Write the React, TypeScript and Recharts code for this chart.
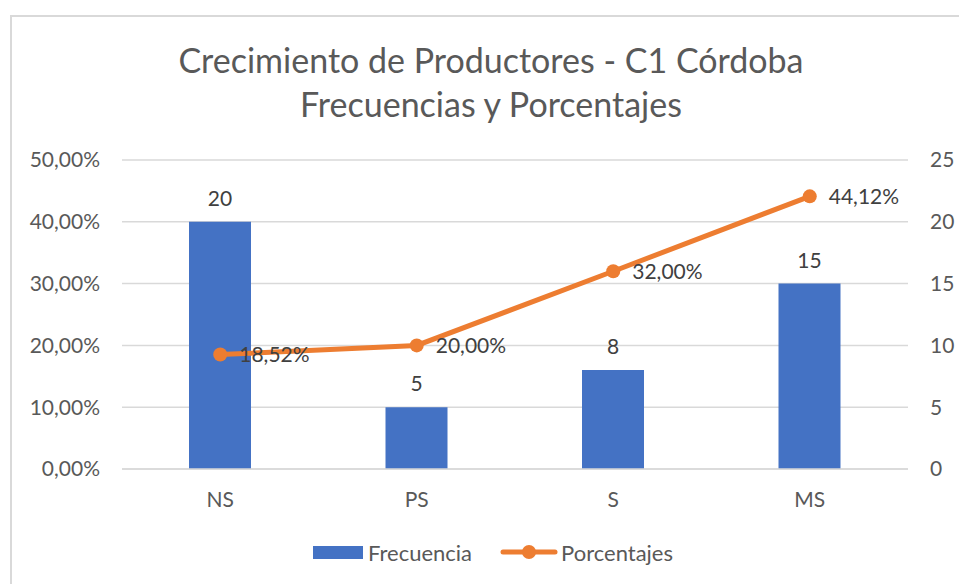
import { Bar, ComposedChart, Line, XAxis, YAxis, CartesianGrid, LabelList } from "recharts";

const categories = ["NS", "PS", "S", "MS"];
const frecuencia = [20, 5, 8, 15];
const porcentajes = [0.1852, 0.2, 0.32, 0.4412];
const leftTicks = [0, 0.1, 0.2, 0.3, 0.4, 0.5];
const rightTicks = [0, 5, 10, 15, 20, 25];

const FONT = "Lato, 'Open Sans', sans-serif";
const BLUE = "#4472C4";
const ORANGE = "#ED7D31";
const GREY = "#595959";

const pct = (v: number) => (v * 100).toFixed(2).replace(".", ",") + "%";

function LegendContent() {
  return (
    <div style={{ position: "absolute", left: 313, top: 538, height: 28, display: "flex", alignItems: "center", fontFamily: FONT, fontSize: 22, color: GREY }}>
      <span style={{ display: "inline-block", width: 50, height: 13, background: BLUE, marginRight: 5 }} />
      <span style={{ marginRight: 28 }}>Frecuencia</span>
      <svg width={58} height={18} style={{ marginRight: 3 }}>
        <line x1={3} y1={9} x2={55} y2={9} stroke={ORANGE} strokeWidth={5} strokeLinecap="round" />
        <circle cx={29} cy={9} r={7} fill={ORANGE} />
      </svg>
      <span>Porcentajes</span>
    </div>
  );
}

export default function App() {
  const data = categories.map((c, i) => ({ name: c, frecuencia: frecuencia[i], porcentaje: porcentajes[i] }));

  return (
    <div style={{ position: "absolute", left: 0, top: 0, width: 959, height: 584, background: "#fff", overflow: "hidden" }}>
      <div style={{ position: "absolute", left: 10, top: 15, width: 960, height: 600, border: "2px solid #d9d9d9", boxSizing: "border-box" }} />
      <div style={{ position: "absolute", left: 0, top: 38, width: 982, textAlign: "center", fontFamily: FONT, fontSize: 34, color: GREY, lineHeight: "44px" }}>
        Crecimiento de Productores - C1 Córdoba
        <br />
        Frecuencias y Porcentajes
      </div>
      <ComposedChart
        width={959}
        height={584}
        data={data}
        margin={{ top: 160, right: 0, left: 0, bottom: 0 }}
        style={{ position: "absolute", left: 0, top: 0 }}
      >
        <CartesianGrid vertical={false} stroke="#d9d9d9" strokeWidth={1.5} yAxisId="pct" />
        <XAxis
          dataKey="name"
          axisLine={{ stroke: "#d9d9d9", strokeWidth: 1.5 }}
          tickLine={false}
          tickMargin={17}
          height={115}
          tick={{ fontFamily: FONT, fontSize: 21, fill: GREY }}
        />
        <YAxis
          yAxisId="pct"
          orientation="left"
          width={122}
          domain={[0, 0.5]}
          ticks={leftTicks}
          tickFormatter={pct}
          axisLine={false}
          tickLine={false}
          tickMargin={16}
          tick={{ fontFamily: FONT, fontSize: 21, fill: GREY }}
        />
        <YAxis
          yAxisId="freq"
          orientation="right"
          width={51}
          domain={[0, 25]}
          ticks={rightTicks}
          axisLine={false}
          tickLine={false}
          tickMargin={16}
          tick={{ fontFamily: FONT, fontSize: 21, fill: GREY, textAnchor: "start" }}
        />
        <Bar yAxisId="freq" dataKey="frecuencia" fill={BLUE} barSize={62} isAnimationActive={false}>
          <LabelList dataKey="frecuencia" position="top" offset={16} style={{ fontFamily: FONT, fontSize: 21, fill: "#404040" }} />
        </Bar>
        <Line
          yAxisId="pct"
          dataKey="porcentaje"
          stroke={ORANGE}
          strokeWidth={5}
          dot={{ r: 7, fill: ORANGE, stroke: ORANGE, strokeWidth: 0 }}
          isAnimationActive={false}
        >
          <LabelList dataKey="porcentaje" position="right" offset={19} formatter={(v: any) => pct(Number(v))} style={{ fontFamily: FONT, fontSize: 21, fill: "#404040" }} />
        </Line>
      </ComposedChart>
      <LegendContent />
    </div>
  );
}
